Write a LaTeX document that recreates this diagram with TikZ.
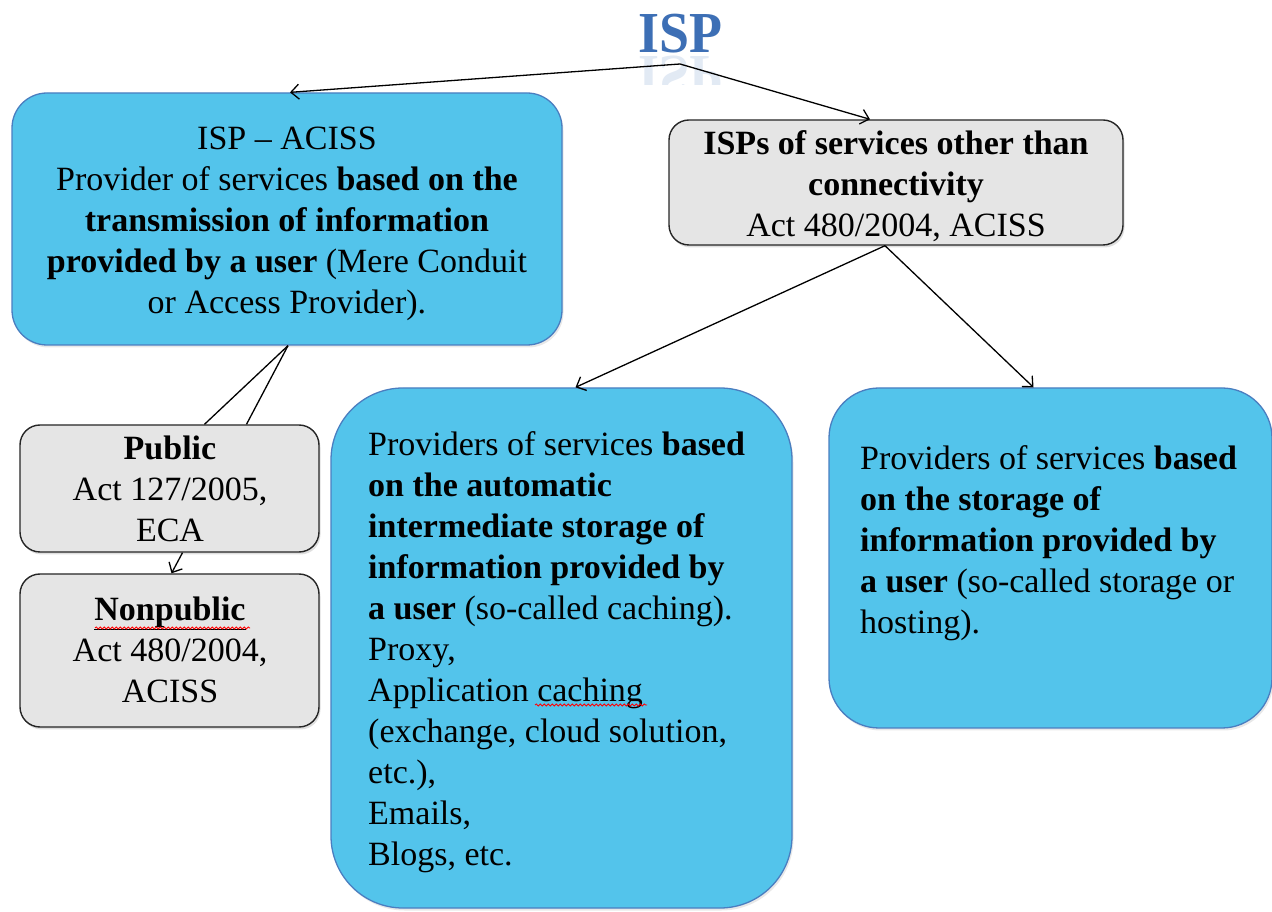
\documentclass[tikz,border=0pt]{standalone}
\usepackage{fontspec}
\setmainfont{Liberation Serif}
\usetikzlibrary{arrows.meta,shadows,decorations.pathmorphing,calc}
\definecolor{boxblue}{HTML}{53C4EB}
\definecolor{boxblueline}{HTML}{4A7EC0}
\definecolor{boxgrey}{HTML}{E5E5E5}
\definecolor{ispblue}{HTML}{3D6FB5}
\tikzset{
  bluebox/.style={draw=boxblueline, fill=boxblue, line width=1.3pt, inner sep=0pt,
    drop shadow={opacity=0.18, shadow xshift=1.5pt, shadow yshift=-2.5pt}},
  greybox/.style={draw=black!85, fill=boxgrey, line width=1.4pt, inner sep=0pt,
    drop shadow={opacity=0.25, shadow xshift=1.5pt, shadow yshift=-2.5pt}},
  txt/.style={inner sep=0pt, font=\fontsize{34}{41}\selectfont},
  conn/.style={line width=1.3pt, draw=black},
  arr/.style={conn, -{Straight Barb[length=8pt,width=15pt,line width=1.3pt]}},
  squig/.style={draw=red, line width=0.8pt, decorate,
    decoration={snake, amplitude=1.1pt, segment length=4pt}},
  titletxt/.style={inner sep=0pt, text=ispblue, font=\fontsize{58}{60}\selectfont\bfseries}
}
\begin{document}
\begin{tikzpicture}[x=1pt,y=1pt]
\useasboundingbox (0,0) rectangle (1272,911);

% title
\node[titletxt, anchor=base, xscale=0.93, transform shape] (title) at (680,858) {ISP};
\begin{scope}
  \clip (620,826) rectangle (740,856);
  \node[titletxt, anchor=base, xscale=0.93, yscale=-1, transform shape, opacity=0.15] (titlerefl) at (680,854) {ISP};
\end{scope}
\coordinate (apex) at (680,847);

% boxes
\node[bluebox, rounded corners=35pt, minimum width=550pt, minimum height=252pt] (acc) at (287,692) {};
\node[greybox, rounded corners=20pt, minimum width=454pt, minimum height=125pt] (oth) at (896,728.5) {};
\node[greybox, rounded corners=20pt, minimum width=299pt, minimum height=127pt] (pub) at (169.5,422.5) {};
\node[greybox, rounded corners=20pt, minimum width=299pt, minimum height=153pt] (non) at (169.5,260.5) {};
\node[bluebox, rounded corners=72pt, minimum width=461pt, minimum height=520pt] (mid) at (561.5,263) {};
\node[bluebox, rounded corners=50pt, minimum width=443pt, minimum height=340pt] (rgt) at (1050.5,353) {};

% texts (anchor base = baseline of the last line)
\node[txt, align=center, anchor=base] (acctxt) at (287,597)
  {ISP -- ACISS\\Provider of services \textbf{based on the}\\\textbf{transmission of information}\\\textbf{provided by a user} (Mere Conduit\\or Access Provider).};
\node[txt, align=center, anchor=base] (othtxt) at (896,674)
  {\textbf{ISPs of services other than}\\\textbf{connectivity}\\Act 480/2004, ACISS};
\node[txt, align=center, anchor=base] (pubtxt) at (170,369)
  {\textbf{Public}\\Act 127/2005,\\ECA};
\node[txt, align=center, anchor=base] (nontxt) at (170,208)
  {\underline{\textbf{Nonpublic}}\\Act 480/2004,\\ACISS};
\node[txt, align=left, anchor=base west] (midtxt) at (368,46)
  {Providers of services \textbf{based}\\\textbf{on the automatic}\\\textbf{intermediate storage of}\\\textbf{information provided by}\\\textbf{a user} (so-called caching).\\Proxy,\\Application caching\\(exchange, cloud solution,\\etc.),\\Emails,\\Blogs, etc.};
\node[txt, align=left, anchor=base west] (rgttxt) at (860,277)
  {Providers of services \textbf{based}\\\textbf{on the storage of}\\\textbf{information provided by}\\\textbf{a user} (so-called storage or\\hosting).};

% spell-check squiggles
\draw[squig] (95,283) -- (250,283);
\draw[squig] (535,206) -- (647,206);

% connectors
\draw[arr] (apex) -- ([xshift=3pt]acc.north);
\draw[arr] (apex) -- ([xshift=-26pt]oth.north);
\draw[conn] ([xshift=1pt]acc.south) -- ([xshift=35pt]pub.north);
\draw[conn] ([xshift=1pt]acc.south) -- ([xshift=77pt]pub.north);
\draw[arr] ([xshift=13pt]pub.south) -- ([xshift=2pt]non.north);
\draw[arr] ([xshift=-11pt]oth.south) -- ([xshift=14pt]mid.north);
\draw[arr] ([xshift=-11pt]oth.south) -- ([xshift=-17pt]rgt.north);
\end{tikzpicture}
\end{document}
